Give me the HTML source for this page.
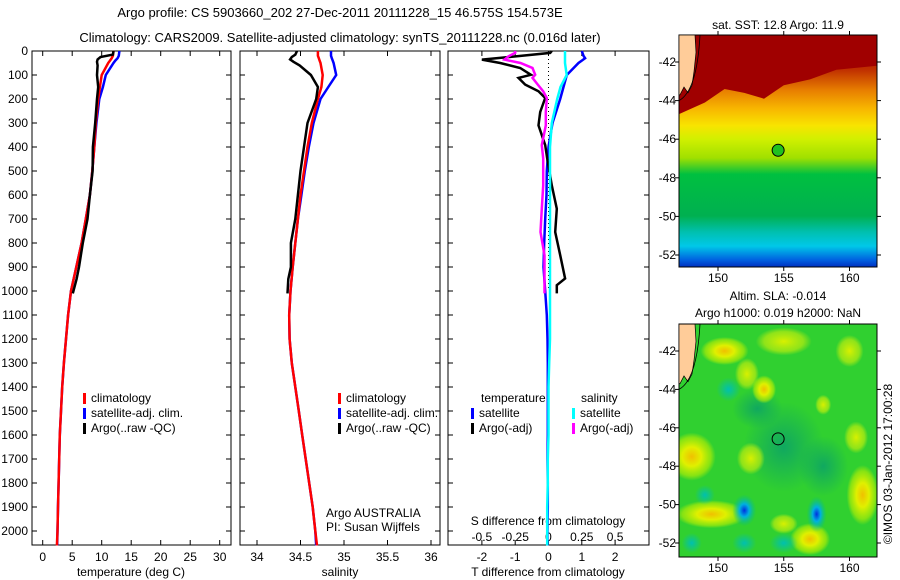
<!DOCTYPE html>
<html><head><meta charset="utf-8"><style>
html,body{margin:0;padding:0;background:#fff;}
svg{display:block;font-family:"Liberation Sans",sans-serif;}
</style></head><body>
<svg id="fig" width="900" height="580" viewBox="0 0 900 580">
<defs>
<linearGradient id="sstGrad" x1="0" y1="0" x2="0" y2="1">
<stop offset="0" stop-color="#a00000"/><stop offset="0.15" stop-color="#c03000"/>
<stop offset="0.24" stop-color="#e88000"/><stop offset="0.32" stop-color="#f8b800"/>
<stop offset="0.39" stop-color="#f8e400"/><stop offset="0.45" stop-color="#d0f000"/>
<stop offset="0.53" stop-color="#a0e000"/><stop offset="0.6" stop-color="#00c040"/>
<stop offset="0.78" stop-color="#00b050"/><stop offset="0.85" stop-color="#00c0b0"/>
<stop offset="0.91" stop-color="#00c8e8"/><stop offset="0.97" stop-color="#0060e0"/>
<stop offset="1" stop-color="#0030c0"/>
</linearGradient>
<radialGradient id="yel"><stop offset="0" stop-color="#f0c000"/><stop offset="0.4" stop-color="#e0f000"/><stop offset="0.8" stop-color="#c0f000" stop-opacity="0.6"/><stop offset="1" stop-color="#c0f000" stop-opacity="0"/></radialGradient>
<radialGradient id="lyel"><stop offset="0" stop-color="#d8f000"/><stop offset="0.7" stop-color="#b8ec10" stop-opacity="0.7"/><stop offset="1" stop-color="#b8ec10" stop-opacity="0"/></radialGradient>
<radialGradient id="blu"><stop offset="0" stop-color="#0030e0"/><stop offset="0.4" stop-color="#00b0e0"/><stop offset="1" stop-color="#00c080" stop-opacity="0"/></radialGradient>
<radialGradient id="teal"><stop offset="0" stop-color="#00c0b0"/><stop offset="1" stop-color="#00c0b0" stop-opacity="0"/></radialGradient>
<radialGradient id="dgr"><stop offset="0" stop-color="#10a860"/><stop offset="1" stop-color="#10a860" stop-opacity="0"/></radialGradient>
<clipPath id="mapclip2"><rect x="679" y="324" width="198" height="233"/></clipPath>
</defs>
</svg>
<script>
// ---- data arrays ----
const depthT = [0,20,30,40,50,100,150,200,300,400,500,600,700,800,900,1000,1100,1200,1300,1400,1500,1600,1700,1800,1900,2000,2060];
const tempClim = [12,11.9,11.7,11.4,11.1,10.0,9.7,9.4,9.0,8.75,8.4,8.0,7.3,6.6,5.7,4.8,4.3,3.95,3.6,3.3,3.1,2.9,2.8,2.7,2.6,2.5,2.4];
const tempSat = [13,12.9,12.7,12.3,12.0,10.7,10.2,9.6,9.1,8.75,8.4,8.0,7.3,6.6,5.7,4.8,4.3,3.95,3.6,3.3,3.1,2.9,2.8,2.7,2.6,2.5,2.45];
const depthArgo = [0,15,25,35,45,60,100,150,200,300,400,500,600,700,800,900,950,1010];
const tempArgo = [12,11.9,9.8,9.3,9.2,9.3,9.2,9.4,9.2,8.9,8.5,8.45,8.0,7.6,6.8,6.15,5.75,5.1];
const salClim = [34.70,34.70,34.71,34.72,34.73,34.755,34.74,34.70,34.63,34.58,34.54,34.50,34.47,34.44,34.41,34.385,34.37,34.375,34.40,34.44,34.48,34.52,34.56,34.60,34.64,34.67,34.69];
const salSat = [34.85,34.85,34.86,34.87,34.88,34.91,34.82,34.73,34.65,34.595,34.55,34.51,34.47,34.44,34.41,34.385,34.37,34.375,34.40,34.44,34.48,34.52,34.56,34.60,34.64,34.67,34.68];
const salArgo = [34.46,34.44,34.40,34.38,34.42,34.49,34.62,34.70,34.68,34.58,34.54,34.50,34.47,34.44,34.39,34.39,34.36,34.35];
const dTsat = [1.0,1.05,1.1,1.0,0.9,0.55,0.45,0.35,0.12,0.0,-0.05,-0.06,-0.1,-0.13,-0.15,-0.1,-0.05,-0.03,-0.02,-0.02,-0.02,-0.02,-0.03,-0.02,-0.02,-0.03,-0.03];
const dSsat = [0.124,0.124,0.124,0.124,0.124,0.137,0.09,0.065,0.025,0.011,0.011,0.011,0.011,0.011,0.011,0.011,0.011,0.011,0.005,0.0,0.0,0.0,-0.005,-0.005,-0.01,-0.01,-0.01];
const depthDiffArgo = [0,8,22,36,50,71,99,112,140,168,196,254,310,392,448,560,657,754,851,948,976,1010];
const dTargo = [0.1,0.05,-0.95,-2.0,-1.45,-0.85,-0.53,-0.9,-0.7,-0.3,-0.1,-0.25,-0.3,-0.1,-0.04,0.1,0.25,0.2,0.35,0.5,0.25,0.25];
const dSargo = [-0.25,-0.25,-0.3,-0.33,-0.21,-0.12,-0.1,-0.12,-0.08,-0.04,-0.013,-0.02,-0.02,-0.05,-0.04,-0.04,-0.05,-0.06,-0.03,-0.03,-0.03,-0.03];
const depthTicks = [0,100,200,300,400,500,600,700,800,900,1000,1100,1200,1300,1400,1500,1600,1700,1800,1900,2000];
const tempTicks = [0,5,10,15,20,25,30];
const salTicks = [34,34.5,35,35.5,36];
const dTTicks = [-2,-1,0,1,2];
const dSTicks = [-0.5,-0.25,0,0.25,0.5];
const lonTicks = [150,155,160];
const latTicks = [-42,-44,-46,-48,-50,-52];
const argoPos = [154.573,-46.575];

const NS='http://www.w3.org/2000/svg';
const svg=document.getElementById('fig');
function mk(tag,attrs,parent){const e=document.createElementNS(NS,tag);for(const k in attrs)e.setAttribute(k,attrs[k]);(parent||svg).appendChild(e);return e;}
function txt(x,y,s,size,anchor,parent){const t=mk('text',{x:x,y:y,'font-size':size||12,'text-anchor':anchor||'start',fill:'#000'},parent);t.textContent=s;return t;}

const yD=d=>51+d*0.24;
const xT=v=>42.7+v*5.9;
const xS=v=>257+(v-34)*87;
const xDT=v=>548.5+v*33.3;
const xDS=v=>548.5+v*133.2;

let t=txt(340,17,'Argo profile: CS 5903660_202 27-Dec-2011 20111228_15 46.575S 154.573E',13,'middle');

t=txt(340,42,'Climatology: CARS2009. Satellite-adjusted climatology: synTS_20111228.nc (0.016d later)',13,'middle');


function box(x0,x1,y0,y1,name){const r=mk('rect',{x:x0,y:y0,width:x1-x0,height:y1-y0,fill:'none',stroke:'#000','stroke-width':1});return r;}

function line(xs,ds,fx,col,name,w){
  const g=mk('polyline',{points:xs.map((v,i)=>fx(v).toFixed(1)+','+yD(ds[i]).toFixed(1)).join(' '),fill:'none',stroke:col,'stroke-width':w||2.5,'stroke-linejoin':'miter'});
  
  
}
function xticks(ticks,fx,fmt,y0,y1){ticks.forEach(v=>{const x=fx(v);mk('line',{x1:x,x2:x,y1:y1,y2:y1-5,stroke:'#000'});mk('line',{x1:x,x2:x,y1:y0,y2:y0+5,stroke:'#000'});const l=txt(x,561,fmt(v),12,'middle');});}
function yticks(x0,x1,labels){depthTicks.forEach(d=>{const y=yD(d);mk('line',{x1:x0,x2:x0+5,y1:y,y2:y,stroke:'#000'});mk('line',{x1:x1,x2:x1-5,y1:y,y2:y,stroke:'#000'});if(labels){const l=txt(28,y+4,String(d),12,'end');}});}
function legend(x,y,items){items.forEach((it,i)=>{mk('rect',{x:x,y:y+i*15-9,width:3,height:11,fill:it[1]});const l=txt(x+8,y+i*15,it[0],12);});}

// panel 1
box(32,231,51,545,'temperature-plot-frame');
yticks(32,231,true);xticks(tempTicks,xT,String,51,545);
line(tempSat,depthT,xT,'#0000ff','temp-satellite-line');
line(tempClim,depthT,xT,'#ff0000','temp-climatology-line');
line(tempArgo,depthArgo,xT,'#000000','temp-argo-line');
t=txt(131,576,'temperature (deg C)',12,'middle');
legend(83,402,[['climatology','#f00'],['satellite-adj. clim.','#00f'],['Argo(..raw -QC)','#000']]);

// panel 2
box(240,440,51,545,'salinity-plot-frame');
yticks(240,440,false);xticks(salTicks,xS,String,51,545);
line(salSat,depthT,xS,'#0000ff','sal-satellite-line');
line(salClim,depthT,xS,'#ff0000','sal-climatology-line');
line(salArgo,depthArgo,xS,'#000000','sal-argo-line');
t=txt(340,576,'salinity',12,'middle');
legend(338,402,[['climatology','#f00'],['satellite-adj. clim.','#00f'],['Argo(..raw -QC)','#000']]);
t=txt(326,517,'Argo AUSTRALIA',12);
t=txt(326,531,'PI: Susan Wijffels',12);

// panel 3
box(448,649,51,545,'difference-plot-frame');
yticks(448,649,false);xticks(dTTicks,xDT,String,51,545);
const zl=mk('line',{x1:xDT(0),x2:xDT(0),y1:51,y2:yD(1000),stroke:'#000','stroke-dasharray':'1,3'});

dSTicks.forEach(v=>{const l=txt(xDS(v),541,String(v),12,'middle');});
t=txt(548,525,'S difference from climatology',12,'middle');
line(dTsat,depthT,xDT,'#0000ff','dT-satellite-line');
line(dTargo,depthDiffArgo,xDT,'#000000','dT-argo-line');
line(dSsat,depthT,xDS,'#00ffff','dS-satellite-line');
line(dSargo,depthDiffArgo,xDS,'#ff00ff','dS-argo-line');
t=txt(548,576,'T difference from climatology',12,'middle');
t=txt(481,402,'temperature',12);
t=txt(581,402,'salinity',12);
legend(471,417,[['satellite','#00f'],['Argo(-adj)','#000']]);
legend(572,417,[['satellite','#0ff'],['Argo(-adj)','#f0f']]);

// maps
const xL=v=>718+(v-150)*13.15;
function mapAxes(y0,y1,latY,name){
  box(679,877,y0,y1,name);
  lonTicks.forEach(v=>{const x=xL(v);mk('line',{x1:x,x2:x,y1:y0,y2:y0-4,stroke:'#000'});mk('line',{x1:x,x2:x,y1:y1,y2:y1+4,stroke:'#000'});const l=txt(x,y1+15,String(v),12,'middle');});
  latTicks.forEach(v=>{const y=latY(v);mk('line',{x1:679,x2:675,y1:y,y2:y,stroke:'#000'});mk('line',{x1:877,x2:881,y1:y,y2:y,stroke:'#000'});const l=txt(676,y+4,String(v),12,'end');});
}
function land(latY){
  const p=mk('path',{d:`M679,${latY(-40.6)} L695,${latY(-40.6)} L696,${latY(-41.5)} L694,${latY(-42.5)} L692,${latY(-43.2)} L688,${latY(-43.6)} L684,${latY(-43.3)} L680,${latY(-43.7)} L679,${latY(-43.7)} Z`,fill:'#ffcc99',stroke:'#000','stroke-width':0.7});
  
  const c=mk('path',{d:`M700,${latY(-40.6)} Q697,${latY(-43.5)} 679,${latY(-44)}`,fill:'none',stroke:'#000','stroke-width':0.8});
  
}
// map 1
const lat1=v=>62+(-42-v)*19.3;
let r=mk('rect',{x:679,y:35,width:198,height:232,fill:'url(#sstGrad)'});
const warm=[[147,-44.7],[149,-44.1],[150.5,-43.4],[152,-43.6],[153.5,-43.9],[155,-43.2],[157,-42.9],[159,-42.4],[162,-42.2]];
let dd='M679,35 '+warm.map(p=>'L'+Math.max(679,xL(p[0])).toFixed(1)+','+lat1(p[1]).toFixed(1)).join(' ')+' L877,'+lat1(-42.2)+' L877,35 Z';
r=mk('path',{d:dd,fill:'#a00000'});
mapAxes(35,267,lat1,'sst-map-frame');land(lat1);
let m=mk('circle',{cx:xL(argoPos[0]),cy:lat1(argoPos[1]),r:6,fill:'#20c020',stroke:'#000','stroke-width':1});
t=txt(778,29,'sat. SST: 12.8 Argo: 11.9',12,'middle');

// map 2
const lat2=v=>351+(-42-v)*19.2;
r=mk('rect',{x:679,y:324,width:198,height:233,fill:'#30d030'});
const gsla=mk('g',{'clip-path':'url(#mapclip2)'});
[[155,-47,40,45,'dgr'],[153,-45,25,20,'dgr'],[158,-48,25,30,'dgr'],[150.5,-42,24,14,'yel'],[152.2,-43.2,12,16,'lyel'],[148,-47.5,24,24,'yel'],[152.5,-47.6,14,16,'lyel'],[155,-41.5,28,14,'lyel'],[160,-42,14,16,'lyel'],[153.5,-44,12,14,'yel'],[149.5,-50.5,36,14,'yel'],[157,-51.8,20,16,'yel'],[161,-49.5,16,30,'yel'],[160.5,-46.5,12,16,'lyel'],[155,-51,14,10,'lyel'],[158,-44.8,8,10,'lyel'],[152,-50.3,12,16,'blu'],[157.5,-50.5,10,18,'blu'],[150.8,-44,12,12,'teal'],[148,-52,10,10,'teal'],[155,-52,14,10,'teal'],[152,-52,12,10,'teal'],[149,-49.5,10,10,'teal']].forEach(b=>{
  const e=mk('ellipse',{cx:xL(b[0]),cy:lat2(b[1]),rx:b[2],ry:b[3],fill:`url(#${b[4]})`},gsla);
  
});
mapAxes(324,557,lat2,'sla-map-frame');land(lat2);
m=mk('circle',{cx:xL(argoPos[0]),cy:lat2(argoPos[1]),r:6,fill:'none',stroke:'#000','stroke-width':1});
t=txt(778,300,'Altim. SLA: -0.014',12,'middle');
t=txt(778,317,'Argo h1000: 0.019 h2000: NaN',12,'middle');
t=txt(0,0,'©IMOS 03-Jan-2012 17:00:28',12,'middle');t.setAttribute('transform','translate(892,464) rotate(-90)');

</script>
</body></html>
